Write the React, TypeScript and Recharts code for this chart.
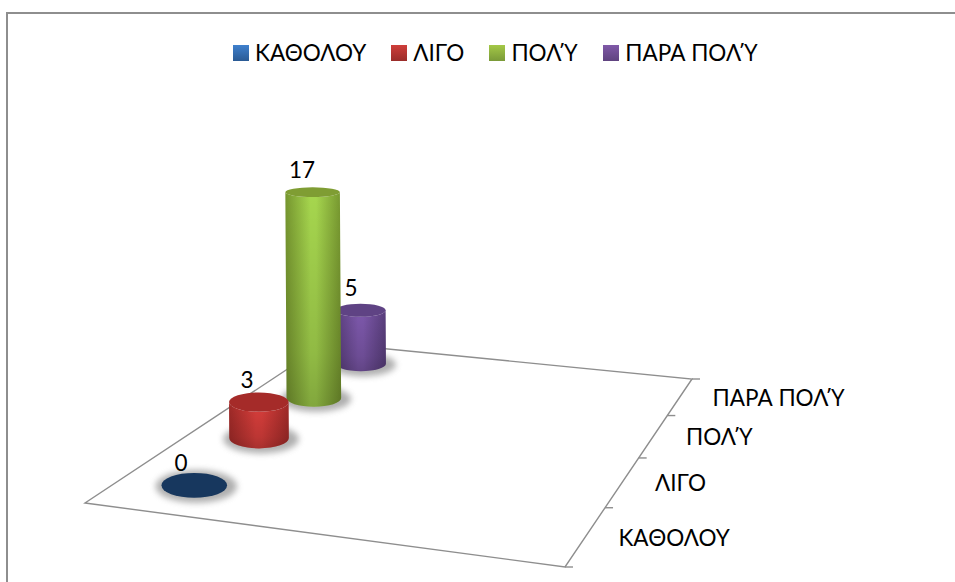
import React from "react";
import { BarChart, Bar, XAxis, YAxis, Legend, Customized } from "recharts";

// ---- data ----
const categories = ["ΚΑΘΟΛΟΥ", "ΛΙΓΟ", "ΠΟΛΎ", "ΠΑΡΑ ΠΟΛΎ"];
const seriesValues = [0, 3, 17, 5];

// ---- style ----
const edgeColors = ["#1f4a80", "#a02a28", "#76962f", "#593e7c"];
const lightColors = ["#3f80cd", "#d83e3b", "#a6d64e", "#7d58ab"];
const topColors = ["#17375e", "#a52b29", "#7f9d33", "#5f4384"];
const swatchTop = ["#3f80cd", "#cf3e3a", "#a4c847", "#8059a8"];
const swatchBottom = ["#2a5a94", "#9a2d2a", "#7a9a38", "#5f437f"];

const WIDTH = 955;
const HEIGHT = 582;
const PLOT_LEFT = 100;
const PLOT_WIDTH = 600;
const PLOT_TOP = 200;
const PLOT_HEIGHT = 178.5;
// The capital upsilon with tonos comes from Open Sans, everything else from Lato.
const FONT_CSS = `@font-face {
  font-family: "TonosY";
  src: local("Open Sans"), local("Open Sans Regular"), local("OpenSans"), local("OpenSans-Regular");
  unicode-range: U+038E;
  size-adjust: 106%;
}`;
const FONT = "TonosY, Lato, 'Noto Sans', sans-serif";
const FONT_SIZE = 22.5;
const LINE = "#8e8e8e";

// floor quadrilateral of the 3-D scene
const A = [85, 503];
const B = [565, 567];
const C = [692, 379];
const D = [327, 343];
const RUN_POSITION = 0.15;

const lerp = (a: number, b: number, t: number) => a + (b - a) * t;
const depth = (v: number) => v / (v + (1 - v) * 0.724);
function project(u: number, v: number) {
  const g = depth(v);
  const fx = lerp(A[0], B[0], u);
  const fy = lerp(A[1], B[1], u);
  const kx = lerp(D[0], C[0], u);
  const ky = lerp(D[1], C[1], u);
  return { x: lerp(fx, kx, g), y: lerp(fy, ky, g), g };
}
const bandFraction = (px: number) => (px - PLOT_LEFT) / PLOT_WIDTH;
const tilt = (y: number) => 0.18 + 0.00068 * (y - 192);

const data = categories.map((name, i) => ({ name, [name]: seriesValues[i] }));

function makeCylinder(series: number) {
  return function Cylinder(props: any) {
    const { x, width, height, payload } = props;
    if (payload.name !== categories[series]) return null;
    const v = bandFraction(x + width / 2);
    const p = project(RUN_POSITION, v);
    const rx = (width / 2) * (1 - 0.3 * p.g);
    const apparent = (height * (1.257 - 0.294 * p.g)) / (1 - 0.000492 * height);
    const yB = p.y;
    const yT = yB - apparent;
    const cxT = p.x - apparent * 0.006;
    const ryB = rx * tilt(yB);
    const ryT = rx * tilt(yT);
    const shaft = `M${cxT - rx},${yT} L${p.x - rx},${yB} A${rx},${ryB} 0 0 0 ${p.x + rx},${yB} L${cxT + rx},${yT} A${rx},${ryT} 0 0 1 ${cxT - rx},${yT} Z`;
    return (
      <g>
        <ellipse
          cx={p.x + 2}
          cy={yB + 1}
          rx={rx + 8}
          ry={ryB + 4}
          fill="#7a7a7a"
          opacity={0.6}
          filter="url(#cylShadow)"
        />
        {apparent > 0 && (
          <>
            <path d={shaft} fill={`url(#body${series})`} />
            <path d={shaft} fill="url(#bodyShade)" />
          </>
        )}
        <ellipse cx={cxT} cy={yT} rx={rx} ry={ryT} fill={topColors[series]} />
        <text
          x={cxT - 14 + 5 * p.g}
          y={yT - 23}
          textAnchor="middle"
          dominantBaseline="central"
          fontFamily={FONT}
          fontSize={FONT_SIZE}
          fill="#000"
        >
          {seriesValues[series]}
        </text>
      </g>
    );
  };
}

function DepthTick(props: any) {
  const t = bandFraction(props.payload.coordinate);
  const p = project(1, t);
  return (
    <text
      x={p.x + 32.5}
      y={p.y + 1}
      textAnchor="start"
      dominantBaseline="central"
      fontFamily={FONT}
      fontSize={FONT_SIZE}
      fill="#000"
    >
      {props.payload.value}
    </text>
  );
}

function Scene() {
  const boundaries = [0, ...categories.map((_, i) => (i + 1) / categories.length)];
  return (
    <g>
      <path d={`M7,${HEIGHT} L7,13 L${WIDTH},13`} fill="none" stroke={LINE} strokeWidth={2} />
      <polygon
        points={[A, B, C, D].map((q) => q.join(",")).join(" ")}
        fill="#fff"
        stroke={LINE}
        strokeWidth={1.4}
      />
      {boundaries.map((v) => {
        const p = project(1, v);
        return (
          <line key={v} x1={p.x} y1={p.y} x2={p.x + 8} y2={p.y} stroke={LINE} strokeWidth={1.4} />
        );
      })}
    </g>
  );
}

function LegendContent(props: any) {
  const items = [...(props.payload || [])].sort(
    (a: any, b: any) => categories.indexOf(a.value) - categories.indexOf(b.value)
  );
  return (
    <div
      style={{
        display: "flex",
        justifyContent: "flex-start",
        paddingLeft: 233,
        gap: 25,
        fontFamily: FONT,
        fontSize: FONT_SIZE,
        lineHeight: "26px",
        color: "#000",
      }}
    >
      {items.map((it: any) => {
        const i = categories.indexOf(it.value);
        return (
          <div key={it.value} style={{ display: "flex", alignItems: "center", gap: 6 }}>
            <div
              style={{
                width: 16,
                height: 16,
                background: `linear-gradient(${swatchTop[i]}, ${swatchBottom[i]})`,
              }}
            />
            <span>{it.value}</span>
          </div>
        );
      })}
    </div>
  );
}

export default function App() {
  const order = categories.map((_, i) => categories.length - 1 - i);
  return (
    <div style={{ position: "absolute", left: 0, top: 0, width: WIDTH, height: HEIGHT }}>
      <style>{FONT_CSS}</style>
      <BarChart
        width={WIDTH}
        height={HEIGHT}
        data={data}
        margin={{
          left: PLOT_LEFT,
          right: WIDTH - PLOT_LEFT - PLOT_WIDTH,
          top: PLOT_TOP,
          bottom: HEIGHT - PLOT_TOP - PLOT_HEIGHT - 1,
        }}
        barSize={69}
      >
        <defs>
          <filter id="cylShadow" x="-30%" y="-60%" width="160%" height="220%">
            <feGaussianBlur stdDeviation="3" />
          </filter>
          {categories.map((_, i) => (
            <linearGradient key={i} id={`body${i}`} x1="0" y1="0" x2="1" y2="0">
              <stop offset="0" stopColor={edgeColors[i]} />
              <stop offset="0.45" stopColor={lightColors[i]} />
              <stop offset="0.55" stopColor={lightColors[i]} />
              <stop offset="1" stopColor={edgeColors[i]} />
            </linearGradient>
          ))}
          <linearGradient id="bodyShade" x1="0" y1="0" x2="0" y2="1">
            <stop offset="0" stopColor="#000" stopOpacity={0} />
            <stop offset="0.75" stopColor="#000" stopOpacity={0.13} />
            <stop offset="1" stopColor="#000" stopOpacity={0.22} />
          </linearGradient>
        </defs>
        <Customized component={Scene} />
        <XAxis
          dataKey="name"
          interval={0}
          axisLine={false}
          tickLine={false}
          height={1}
          tick={DepthTick}
        />
        <YAxis hide domain={[0, 17]} />
        <Legend
          verticalAlign="middle"
          content={<LegendContent />}
          wrapperStyle={{ position: "absolute", left: 0, top: 40, width: WIDTH }}
        />
        {order.map((i) => (
          <Bar
            key={categories[i]}
            dataKey={categories[i]}
            stackId="scene"
            fill={swatchTop[i]}
            isAnimationActive={false}
            shape={makeCylinder(i)}
          />
        ))}
      </BarChart>
    </div>
  );
}
